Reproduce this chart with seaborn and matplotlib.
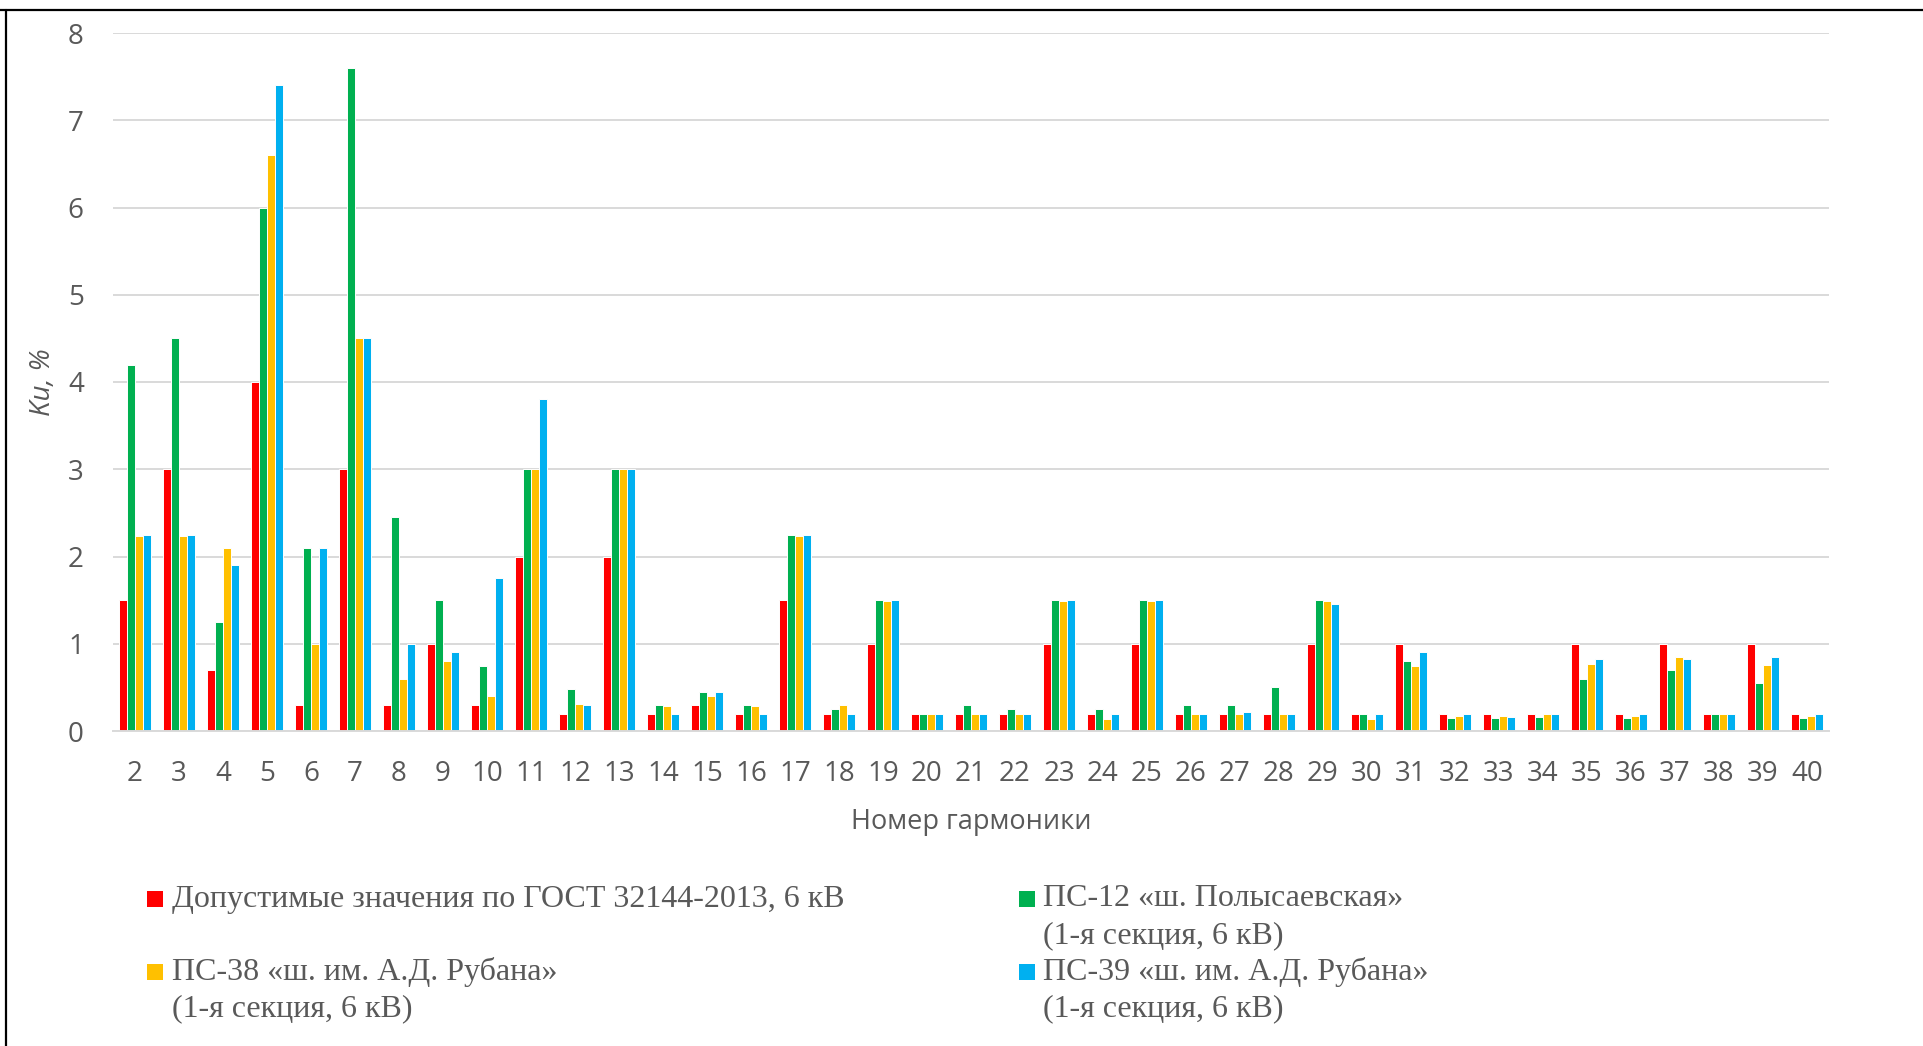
import matplotlib
matplotlib.use("Agg")
import matplotlib.pyplot as plt
import seaborn as sns
import pandas as pd
from matplotlib.patches import Rectangle
from matplotlib.lines import Line2D

# ---- data ----
harmonics = ["2", "3", "4", "5", "6", "7", "8", "9", "10", "11", "12", "13", "14",
             "15", "16", "17", "18", "19", "20", "21", "22", "23", "24", "25", "26",
             "27", "28", "29", "30", "31", "32", "33", "34", "35", "36", "37", "38",
             "39", "40"]

gost = [1.5, 3.0, 0.7, 4.0, 0.3, 3.0, 0.3, 1.0, 0.3, 2.0, 0.2, 2.0, 0.2, 0.3, 0.2,
        1.5, 0.2, 1.0, 0.2, 0.2, 0.2, 1.0, 0.2, 1.0, 0.2, 0.2, 0.2, 1.0, 0.2, 1.0,
        0.2, 0.2, 0.2, 1.0, 0.2, 1.0, 0.2, 1.0, 0.2]
ps12 = [4.2, 4.5, 1.25, 6.0, 2.1, 7.6, 2.45, 1.5, 0.75, 3.0, 0.48, 3.0, 0.3, 0.45,
        0.3, 2.25, 0.25, 1.5, 0.2, 0.3, 0.25, 1.5, 0.25, 1.5, 0.3, 0.3, 0.5, 1.5,
        0.2, 0.8, 0.15, 0.15, 0.16, 0.6, 0.15, 0.7, 0.19, 0.55, 0.15]
ps38 = [2.24, 2.24, 2.1, 6.6, 1.0, 4.5, 0.6, 0.8, 0.4, 3.0, 0.31, 3.0, 0.29, 0.4,
        0.29, 2.24, 0.3, 1.49, 0.19, 0.19, 0.19, 1.49, 0.14, 1.49, 0.19, 0.19, 0.19,
        1.49, 0.14, 0.75, 0.17, 0.17, 0.2, 0.77, 0.17, 0.85, 0.2, 0.76, 0.17]
ps39 = [2.25, 2.25, 1.9, 7.4, 2.1, 4.5, 1.0, 0.9, 1.75, 3.8, 0.3, 3.0, 0.2, 0.45,
        0.2, 2.25, 0.2, 1.5, 0.2, 0.2, 0.2, 1.5, 0.2, 1.5, 0.2, 0.22, 0.2, 1.45,
        0.2, 0.9, 0.2, 0.16, 0.2, 0.83, 0.2, 0.83, 0.2, 0.85, 0.2]

series_names = [
    "Допустимые значения по ГОСТ 32144-2013, 6 кВ",
    "ПС-12 «ш. Полысаевская»\n(1-я секция, 6 кВ)",
    "ПС-38 «ш. им. А.Д. Рубана»\n(1-я секция, 6 кВ)",
    "ПС-39 «ш. им. А.Д. Рубана»\n(1-я секция, 6 кВ)",
]
colors = ["#FF0000", "#00B050", "#FFC000", "#00B0F0"]
y_ticks = [0, 1, 2, 3, 4, 5, 6, 7, 8]
x_label = "Номер гармоники"
y_label = "Ku, %"

# ---- long-form table ----
rows = []
for name, vals in zip(series_names, [gost, ps12, ps38, ps39]):
    for h, v in zip(harmonics, vals):
        rows.append({"h": h, "v": v, "s": name})
df = pd.DataFrame(rows)

sns.set_theme(style="white")
plt.rcParams["font.family"] = ["Open Sans", "DejaVu Sans"]

W, H = 1924, 1046
fig = plt.figure(figsize=(W / 100, H / 100), dpi=100)
ax = fig.add_axes([113 / W, 1 - 731 / H, (1829 - 113) / W, (731 - 33) / H])

sns.barplot(data=df, x="h", y="v", hue="s", order=harmonics, hue_order=series_names,
            palette=colors, width=0.73, ax=ax, edgecolor="white", linewidth=0.7,
            saturation=1, legend=False)

ax.set_ylim(0, 8)
ax.set_xlim(-0.5, len(harmonics) - 0.5)
ax.set_yticks(y_ticks)
ax.set_yticklabels([str(t) for t in y_ticks])
ax.yaxis.grid(True, color="#D9D9D9", linewidth=1.4)
ax.set_axisbelow(True)
for s in ["top", "right", "left"]:
    ax.spines[s].set_visible(False)
ax.spines["bottom"].set_color("#D9D9D9")
ax.spines["bottom"].set_linewidth(1.4)
ax.tick_params(axis="both", length=0, labelsize=20, labelcolor="#595959")
ax.tick_params(axis="y", pad=21)
ax.tick_params(axis="x", pad=21)

ax.set_xlabel(x_label, fontsize=19.5, color="#595959")
ax.xaxis.label.set_va("center")
ax.xaxis.set_label_coords(0.5, -(822 - 731) / (731 - 33))
ax.set_ylabel(y_label, fontsize=20, color="#595959", fontstyle="italic")
ax.yaxis.label.set_va("center")
ax.yaxis.set_label_coords((43 - 113) / (1829 - 113), 0.5)

# ---- legend (manual, two columns) ----
leg_font = ["Liberation Serif", "DejaVu Serif"]
entries = [
    (0, 147, 172, 899),
    (1, 1019, 1043, 899),
    (2, 147, 172, 972),
    (3, 1019, 1043, 972),
]
for idx, mx, tx, ty in entries:
    fig.patches.append(Rectangle((mx / W, 1 - (ty + 8) / H), 16 / W, 16 / H,
                                 transform=fig.transFigure, facecolor=colors[idx],
                                 edgecolor="none"))
    lines = series_names[idx].split("\n")
    for k, line in enumerate(lines):
        fig.text(tx / W, 1 - (ty + 37 * k) / H, line, fontsize=23, color="#595959",
                 family=leg_font, ha="left", va="center")

# ---- outer frame lines (top and left) ----
fig.add_artist(Line2D([0, 1], [1 - 10 / H, 1 - 10 / H], transform=fig.transFigure,
                      color="black", linewidth=1.6))
fig.add_artist(Line2D([6 / W, 6 / W], [0, 1 - 10 / H], transform=fig.transFigure,
                      color="black", linewidth=1.6))

fig.savefig("out.png", dpi=100)
